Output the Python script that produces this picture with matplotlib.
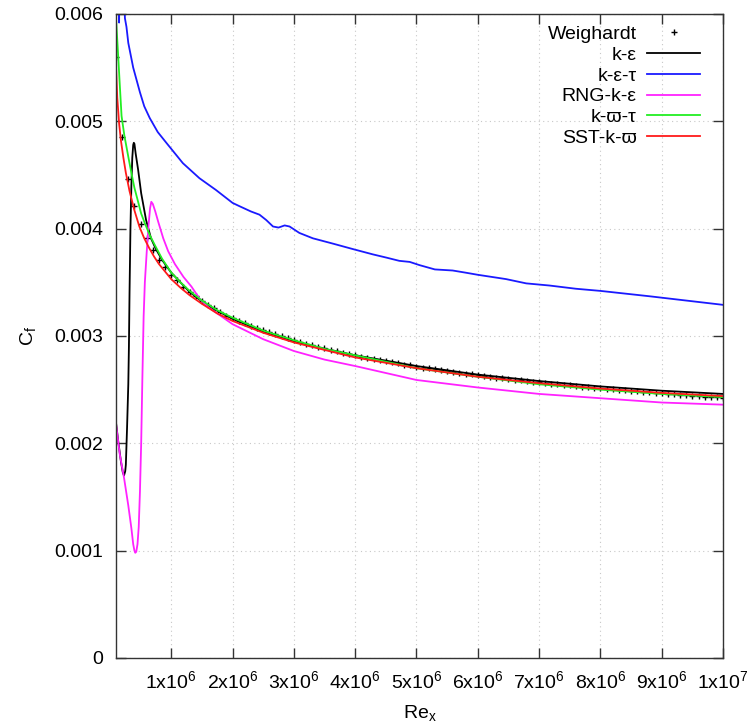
import numpy as np
import matplotlib as mpl
mpl.use('Agg')
import matplotlib.pyplot as plt

plt.rcParams['font.family'] = ['Liberation Sans', 'DejaVu Sans']
plt.rcParams['mathtext.fontset'] = 'custom'
plt.rcParams['mathtext.rm'] = 'Liberation Sans'
plt.rcParams['mathtext.it'] = 'Liberation Sans'

# Weighardt data, Re_x in steps of 1e5
re_w = np.arange(1, 101) * 1e5
cf_w = [0.00560, 0.00485, 0.00446, 0.00421, 0.00404, 0.00391, 0.00380, 0.00371, 0.00364, 0.00357,
        0.00352, 0.00346, 0.00341, 0.00337, 0.00333, 0.00329, 0.00326, 0.00322, 0.00319, 0.003165,
        0.003142, 0.003119, 0.003097, 0.003076, 0.003056, 0.003037, 0.003018, 0.002999, 0.002980, 0.002963,
        0.002946, 0.002929, 0.002914, 0.002899, 0.002885, 0.002871, 0.002858, 0.002845, 0.002832, 0.002819,
        0.002808, 0.002797, 0.002786, 0.002775, 0.002764, 0.002754, 0.002744, 0.002734, 0.002725, 0.002715,
        0.002706, 0.002698, 0.002689, 0.002681, 0.002673, 0.002665, 0.002657, 0.002650, 0.002642, 0.002635,
        0.002627, 0.002620, 0.002613, 0.002606, 0.002600, 0.002593, 0.002587, 0.002581, 0.002575, 0.002569,
        0.002563, 0.002557, 0.002551, 0.002545, 0.002540, 0.002534, 0.002529, 0.002523, 0.002518, 0.002513,
        0.002508, 0.002503, 0.002498, 0.002493, 0.002488, 0.002484, 0.002479, 0.002475, 0.002470, 0.002466,
        0.002461, 0.002457, 0.002453, 0.002448, 0.002444, 0.002440, 0.002436, 0.002432, 0.002428, 0.002424]

# k-epsilon
re_ke = [0.10, 0.14, 0.18, 0.21, 0.23, 0.25, 0.26, 0.28, 0.30, 0.31, 0.32, 0.335, 0.35, 0.365,
         0.38, 0.39, 0.40, 0.42, 0.46, 0.51, 0.59, 0.67, 0.75, 0.85, 1.0, 1.15, 1.3, 1.6, 2.0,
         2.5, 3.0, 3.5, 4.0, 5.0, 6.0, 7.0, 8.0, 9.0, 10.0]
cf_ke = [0.00219, 0.00200, 0.00183, 0.00173, 0.00170, 0.00174, 0.00180, 0.00215, 0.00255, 0.00290,
         0.00340, 0.00400, 0.00440, 0.00466, 0.00478, 0.00480, 0.00479, 0.00470, 0.00455, 0.00433,
         0.00408, 0.00391, 0.00381, 0.00371, 0.00359, 0.00350, 0.00341, 0.00328, 0.00316, 0.00304,
         0.00295, 0.00288, 0.00282, 0.00272, 0.00264, 0.00258, 0.00253, 0.00249, 0.00246]

# k-epsilon-tau
re_ket = [0.10, 0.15, 0.155, 0.17, 0.19, 0.20, 0.215, 0.225, 0.245, 0.27, 0.30, 0.38, 0.49, 0.56,
          0.65, 0.78, 0.92, 1.19, 1.46, 1.73, 2.0, 2.11, 2.3, 2.44, 2.55, 2.66, 2.75, 2.85, 2.93,
          3.09, 3.31, 3.64, 3.96, 4.29, 4.51, 4.72, 4.89, 5.05, 5.3, 5.59, 5.8, 6.0, 6.46, 6.79,
          7.17, 7.6, 8.0, 8.8, 9.4, 10.0]
cf_ket = [0.00750, 0.00592, 0.00640, 0.00606, 0.00612, 0.00650, 0.00602, 0.00625, 0.00596, 0.00588,
          0.00573, 0.00550, 0.00527, 0.00514, 0.00503, 0.00490, 0.00480, 0.00461, 0.00447, 0.00436,
          0.00424, 0.00421, 0.00416, 0.00413, 0.00408, 0.00402, 0.00401, 0.00403, 0.00402, 0.00396,
          0.00391, 0.00386, 0.00381, 0.00376, 0.00373, 0.00370, 0.00369, 0.00366, 0.00362, 0.00361,
          0.00359, 0.00357, 0.00353, 0.00349, 0.00347, 0.00344, 0.00342, 0.00337, 0.00333, 0.00329]

# RNG k-epsilon
re_rng = [0.10, 0.16, 0.23, 0.30, 0.35, 0.38, 0.40, 0.414, 0.43, 0.45, 0.47, 0.49, 0.51, 0.53,
          0.55, 0.57, 0.60, 0.63, 0.655, 0.675, 0.70, 0.74, 0.79, 0.87, 0.95, 1.06, 1.2, 1.33,
          1.46, 1.6, 2.0, 2.5, 3.0, 3.5, 4.0, 5.0, 6.0, 7.0, 8.0, 9.0, 10.0]
cf_rng = [0.00218, 0.00190, 0.00168, 0.00142, 0.00121, 0.00106, 0.00100, 0.00098, 0.00099, 0.00106,
          0.00122, 0.00155, 0.00200, 0.00262, 0.00318, 0.00350, 0.00378, 0.00403, 0.00419, 0.00425,
          0.00423, 0.00416, 0.00406, 0.00391, 0.00379, 0.00367, 0.00355, 0.00346, 0.00335, 0.00327,
          0.00311, 0.00297, 0.00286, 0.00278, 0.00272, 0.00259, 0.00252, 0.00246, 0.00242, 0.00238,
          0.00236]

# k-omega-tau
re_kwt = [0.10, 0.13, 0.16, 0.19, 0.235, 0.30, 0.35, 0.40, 0.46, 0.51, 0.57, 0.65, 0.73, 0.85,
          1.0, 1.15, 1.3, 1.5, 1.75, 2.0, 2.5, 3.0, 3.5, 4.0, 4.5, 5.0, 6.0, 7.0, 8.0, 9.0, 10.0]
cf_kwt = [0.00595, 0.00566, 0.00535, 0.00505, 0.00487, 0.00467, 0.00452, 0.00438, 0.00425, 0.00414,
          0.00405, 0.00394, 0.00385, 0.00372, 0.00359, 0.00350, 0.00342, 0.00333, 0.00324, 0.00317,
          0.00305, 0.00296, 0.00288, 0.00282, 0.00276, 0.00270, 0.00262, 0.00255, 0.00250, 0.00246,
          0.00243]

# SST k-omega
re_sst = [0.10, 0.12, 0.15, 0.18, 0.22, 0.26, 0.32, 0.40, 0.48, 0.56, 0.64, 0.72, 0.80, 0.90,
          1.0, 1.15, 1.3, 1.5, 1.75, 2.0, 2.5, 3.0, 3.5, 4.0, 4.5, 5.0, 6.0, 7.0, 8.0, 9.0, 10.0]
cf_sst = [0.00551, 0.00522, 0.00498, 0.00482, 0.00466, 0.00452, 0.00435, 0.00417, 0.00402, 0.00391,
          0.00382, 0.00374, 0.00367, 0.00360, 0.00353, 0.00345, 0.00338, 0.00330, 0.00321, 0.00314,
          0.00303, 0.00294, 0.00287, 0.00280, 0.00275, 0.00270, 0.00262, 0.00256, 0.00251, 0.00247,
          0.00244]

x_ticks = [1e6, 2e6, 3e6, 4e6, 5e6, 6e6, 7e6, 8e6, 9e6, 1e7]
x_labels = [r'%dx10$^{\mathregular{%d}}$' % (m, e) for m, e in
            [(1, 6), (2, 6), (3, 6), (4, 6), (5, 6), (6, 6), (7, 6), (8, 6), (9, 6), (1, 7)]]
y_ticks = [0, 0.001, 0.002, 0.003, 0.004, 0.005, 0.006]
y_labels = ['0', '0.001', '0.002', '0.003', '0.004', '0.005', '0.006']

fig, ax = plt.subplots(figsize=(7.53, 7.28), dpi=100)
fig.subplots_adjust(left=0.1541, right=0.9602, bottom=0.0962, top=0.9808)

lw = 1.3
ax.plot(re_w, cf_w, ls='none', marker='+', ms=4, mew=1.0, color='black', label='Weighardt')
ax.plot(np.array(re_ke) * 1e6, cf_ke, color='black', lw=lw, label='k-ε')
ax.plot(np.array(re_ket) * 1e6, cf_ket, color='#1a1aff', lw=lw, label='k-ε-τ')
ax.plot(np.array(re_rng) * 1e6, cf_rng, color='#ff22ff', lw=lw, label='RNG-k-ε')
ax.plot(np.array(re_kwt) * 1e6, cf_kwt, color='#22ee22', lw=lw, label='k-ϖ-τ')
ax.plot(np.array(re_sst) * 1e6, cf_sst, color='#ff1a1a', lw=lw, label='SST-k-ϖ')

ax.set_xlim(1e5, 1e7)
ax.set_ylim(0, 0.006)
ax.set_xticks(x_ticks)
ax.set_xticklabels(x_labels)
ax.set_yticks(y_ticks)
ax.set_yticklabels(y_labels)
ax.tick_params(direction='in', length=7, width=1, top=True, right=True,
               labelsize=14, pad=9, color='#333333')
ax.grid(True, color='#c8c8c8', lw=0.8, ls=(0, (1, 3)))
for s in ax.spines.values():
    s.set_color('#333333')
    s.set_linewidth(1)

ax.set_xlabel(r'Re$_{\mathregular{x}}$', fontsize=14, labelpad=8)
ax.set_ylabel(r'C$_{\mathregular{f}}$', fontsize=14, labelpad=12)

leg = ax.legend(loc='upper right', bbox_to_anchor=(0.962, 0.982), frameon=False,
                markerfirst=False, fontsize=14, numpoints=1, handlelength=2.7,
                handletextpad=0.55, labelspacing=0.16, borderpad=0, borderaxespad=0)

fig.savefig('out.png', dpi=100)
